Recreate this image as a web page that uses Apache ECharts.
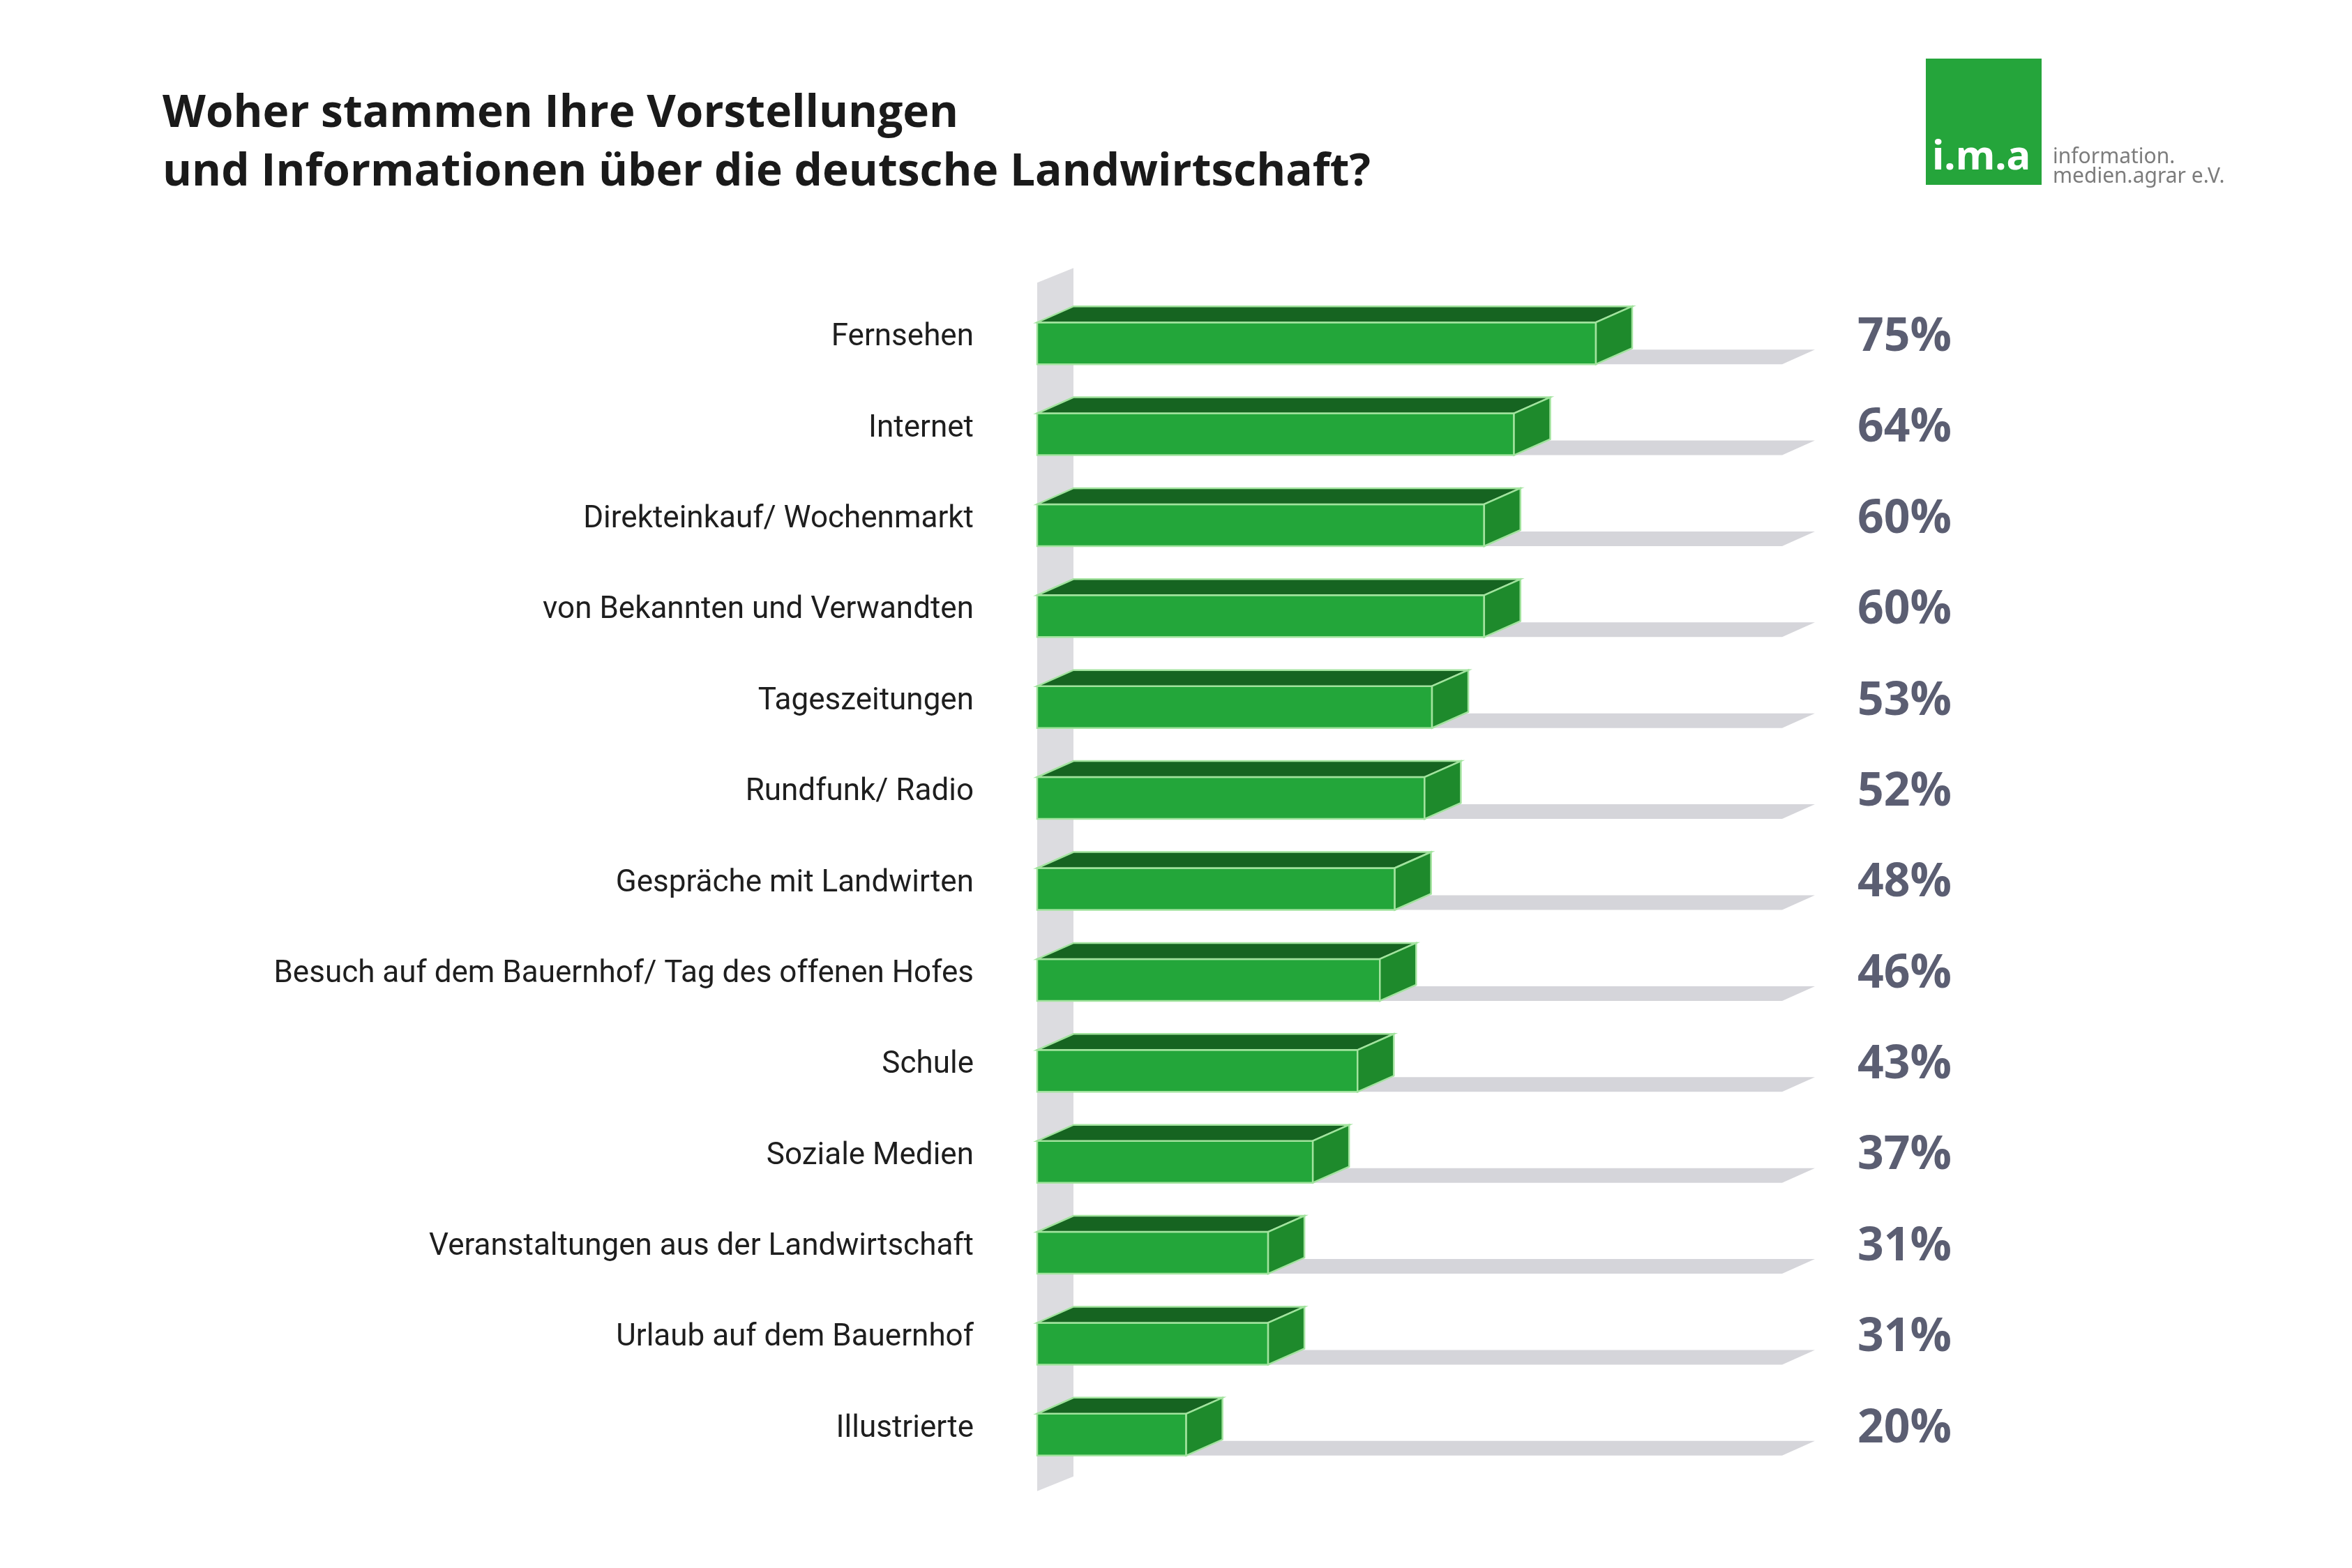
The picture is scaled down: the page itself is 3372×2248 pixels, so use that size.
<!DOCTYPE html>
<html><head><meta charset="utf-8">
<script src="https://cdn.jsdelivr.net/npm/echarts@6/dist/echarts.min.js"></script>
<style>html,body{margin:0;padding:0;background:#fff}#c{width:3372px;height:2248px}</style>
</head><body><div id="c"></div>
<script>
const titleLines = ['Woher stammen Ihre Vorstellungen', 'und Informationen über die deutsche Landwirtschaft?'];
const categories = ['Fernsehen','Internet','Direkteinkauf/ Wochenmarkt','von Bekannten und Verwandten','Tageszeitungen','Rundfunk/ Radio','Gespräche mit Landwirten','Besuch auf dem Bauernhof/ Tag des offenen Hofes','Schule','Soziale Medien','Veranstaltungen aus der Landwirtschaft','Urlaub auf dem Bauernhof','Illustrierte'];
const values = [75,64,60,60,53,52,48,46,43,37,31,31,20];
const valueLabels = ['75%','64%','60%','60%','53%','52%','48%','46%','43%','37%','31%','31%','20%'];
const axisMax = 100;

const labelFont = '"Roboto","Liberation Sans",sans-serif';
const boldFont = '"Open Sans","Noto Sans",sans-serif';

const chart = echarts.init(document.getElementById('c'));
const DX = 52, DY = 23, UP = 22, DOWN = 38;
const EDGE = '#a2e39e';

function renderBar(params, api) {
  const v = api.value(0), idx = api.value(1);
  const p0 = api.coord([0, idx]);
  const p1 = api.coord([v, idx]);
  const pm = api.coord([axisMax, idx]);
  const c = p0[1];
  const yT = c - UP, yB = c + DOWN;
  const x0 = p0[0], x1 = p1[0], xm = pm[0];
  return {type:'group', children:[
    {type:'polygon', shape:{points:[[x0,yB],[xm,yB],[xm+47,yB-21],[x0+47,yB-21]]}, style:{fill:'#d5d5da'}},
    {type:'rect', shape:{x:x0,y:yT,width:x1-x0,height:yB-yT}, style:{fill:'#23a63a', stroke:EDGE, lineWidth:2.5}},
    {type:'polygon', shape:{points:[[x0,yT],[x1,yT],[x1+DX,yT-DY],[x0+DX,yT-DY]]}, style:{fill:'#166421', stroke:EDGE, lineWidth:2.5}},
    {type:'polygon', shape:{points:[[x1,yT],[x1+DX,yT-DY],[x1+DX,yB-DY],[x1,yB]]}, style:{fill:'#1e8a2c', stroke:EDGE, lineWidth:2.5}},
    {type:'text', x: xm + 108, y: c, style:{text: valueLabels[idx], fontFamily: boldFont, fontWeight:'bold', fontSize:66, fill:'#5b5e72', align:'left', verticalAlign:'middle'}}
  ]};
}

function renderWall(params, api) {
  const pa = api.coord([0, 0]);
  const pb = api.coord([0, categories.length - 1]);
  const x0 = pa[0];
  const top = pa[1] - 79, bot = pb[1] + 89;
  return {type:'polygon', shape:{points:[[x0,top],[x0+DX,top-21],[x0+DX,bot-21],[x0,bot]]}, style:{fill:'#dcdce0'}};
}

chart.setOption({
  animation:false,
  backgroundColor:'#ffffff',
  grid:{left:1487, width:1068, top:419, height:1695},
  xAxis:{type:'value', min:0, max:axisMax, show:false},
  yAxis:{type:'category', data:categories, inverse:true,
    axisLine:{show:false}, axisTick:{show:false}, splitLine:{show:false},
    axisLabel:{margin:91, fontFamily:labelFont, fontSize:44, color:'#1e1e1e'}},
  graphic:[
    {type:'text', x:233, y:164, style:{text:titleLines[0], fontFamily:boldFont, fontWeight:'bold', fontSize:64, fill:'#1a1a1a', verticalAlign:'middle'}},
    {type:'text', x:233, y:248, style:{text:titleLines[1], fontFamily:boldFont, fontWeight:'bold', fontSize:64, fill:'#1a1a1a', verticalAlign:'middle'}},
    {type:'rect', shape:{x:2761, y:84, width:166, height:181}, style:{fill:'#25a53b'}},
    {type:'text', x:2770, y:255, style:{text:'i.m.a', fontFamily:'"Noto Sans",sans-serif', fontWeight:'bold', fontSize:58, fill:'#ffffff', verticalAlign:'bottom'}},
    {type:'text', x:2943, y:225, style:{text:'information.', fontFamily:'"Noto Sans",sans-serif', fontSize:30, fill:'#7c7c7c', verticalAlign:'middle'}},
    {type:'text', x:2943, y:253, style:{text:'medien.agrar e.V.', fontFamily:'"Noto Sans",sans-serif', fontSize:30, fill:'#7c7c7c', verticalAlign:'middle'}}
  ],
  series:[
    {type:'custom', name:'wall', renderItem:renderWall, data:[[0,0]], encode:{x:0,y:1}, silent:true, z:1},
    {type:'custom', name:'Anteil', renderItem:renderBar, data:values.map((v,i)=>[v,i]), encode:{x:0,y:1}, z:2}
  ]
});
</script></body></html>
